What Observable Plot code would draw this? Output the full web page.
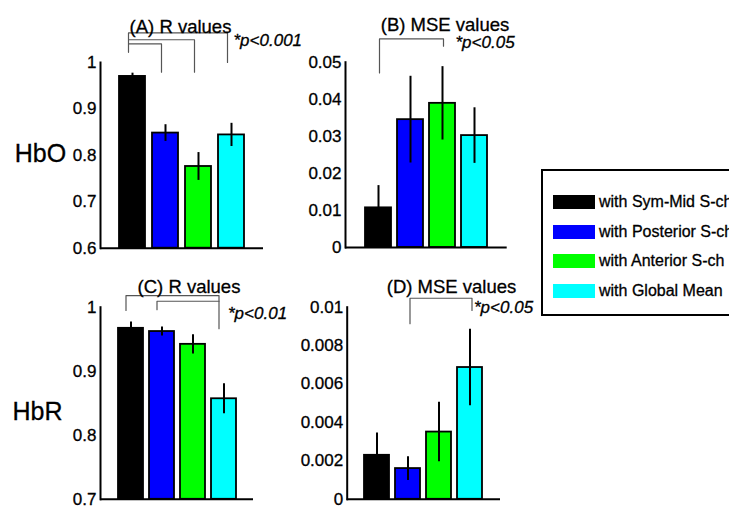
<!DOCTYPE html>
<html><head><meta charset="utf-8">
<script src="https://cdn.jsdelivr.net/npm/d3@7"></script>
<script src="https://cdn.jsdelivr.net/npm/@observablehq/plot@0.6"></script>
<style>
body{margin:0;overflow:hidden;background:#fff;font-family:"Liberation Sans",Arial,sans-serif;}
#root{position:relative;width:729px;height:508px;overflow:hidden;}
.panel{position:absolute;}
.panel svg{overflow:visible;}
.panel svg text{stroke:#000;stroke-width:0.3px;}
.legend{position:absolute;left:541px;top:169px;width:230px;height:147px;border:2px solid #000;box-sizing:border-box;padding-top:16px;}
.legend .row{height:29.7px;display:flex;align-items:center;font-size:16px;color:#000;white-space:nowrap;-webkit-text-stroke:0.3px #000;}
.legend .sw{width:42px;height:14px;margin-left:10px;margin-right:4px;-webkit-text-stroke:0;}
</style></head><body><div id="root"></div>
<script>
// ---- data ----
const categories = ["with Sym-Mid S-ch", "with Posterior S-ch", "with Anterior S-ch", "with Global Mean"];
const colors = ["#000000", "#0000ff", "#00ff00", "#00ffff"];

const rHbO = [0.970, 0.848, 0.776, 0.844];
const rHbOErr = [0.007, 0.018, 0.030, 0.025];
const mseHbO = [0.0107, 0.0345, 0.0389, 0.0302];
const mseHbOErr = [0.0060, 0.0117, 0.0099, 0.0075];
const rHbR = [0.967, 0.962, 0.942, 0.857];
const rHbRErr = [0.010, 0.007, 0.015, 0.0235];
const mseHbR = [0.00229, 0.00160, 0.00350, 0.00686];
const mseHbRErr = [0.00116, 0.00062, 0.00155, 0.00199];

const ticksR1 = [0.6, 0.7, 0.8, 0.9, 1];
const ticksM1 = [0, 0.01, 0.02, 0.03, 0.04, 0.05];
const ticksR2 = [0.7, 0.8, 0.9, 1];
const ticksM2 = [0, 0.002, 0.004, 0.006, 0.008, 0.01];

const titles = ["(A) R values", "(B) MSE values", "(C) R values", "(D) MSE values"];
const rowLabels = ["HbO", "HbR"];
const sigLabels = ["*p<0.001", "*p<0.05", "*p<0.01", "*p<0.05"];

// significance brackets: [category index, value] vertices
const bracketsA = [
  [[0, 1.022], [0, 1.064], [3, 1.064], [3, 1.000]],
  [[0, 1.049], [2, 1.049], [2, 0.979]],
  [[0, 1.040], [1, 1.040], [1, 0.979]]
];
const bracketsB = [[[0, 0.0471], [0, 0.0563], [2, 0.0563], [2, 0.0543]]];
const bracketsC = [
  [[0, 0.9949], [0, 1.0182], [3, 1.0182], [3, 0.9665]],
  [[1, 0.9960], [1, 1.0093], [3, 1.0093]]
];
const bracketsD = [[[1, 0.00914], [1, 0.010466], [3, 0.010466], [3, 0.00983]]];
const sigPos = [[3, 1.047], [2, 0.0552], [3, 0.990], [3, 0.0100]];

// ---- drawing ----
const root = document.getElementById("root");
const FONT = '"Liberation Sans", Arial, sans-serif';

function panel(o) {
  const rows = categories.map((c, i) => ({cat: c, mean: o.means[i], err: o.errs[i]}));
  const marks = [
    Plot.barY(rows, {x: "cat", y1: o.domain[0], y2: "mean", fill: "cat", stroke: "#000", strokeWidth: 1.8}),
    Plot.ruleX(rows, {x: "cat", y1: d => d.mean - d.err, y2: d => d.mean + d.err, stroke: "#000", strokeWidth: 2}),
    Plot.ruleY([o.domain[0]], {stroke: "#000", strokeWidth: 2}),
    Plot.frame({anchor: "left", stroke: "#000", strokeWidth: 2}),
    ...o.brackets.map(b => Plot.line(b, {x: d => categories[d[0]], y: d => d[1], stroke: "#555", strokeWidth: 1.2, dx: o.bdx})),
    Plot.text([o.sig], {x: d => categories[d[0]], y: d => d[1], text: () => o.sigLabel, textAnchor: "start", dx: o.sdx, fontStyle: "italic", fontSize: 17}),
    Plot.text([o.title], {frameAnchor: "top", text: d => d, dx: o.tdx, dy: o.tdy, fontSize: 18.5})
  ];
  if (o.row) marks.push(Plot.text([o.row], {frameAnchor: "left", text: d => d, dx: o.rdx, dy: o.rdy, fontSize: 25, textAnchor: "middle"}));
  const chart = Plot.plot({
    width: o.w, height: o.h,
    marginLeft: o.mL, marginRight: o.mR, marginTop: o.mT, marginBottom: o.mB,
    style: {fontFamily: FONT, fontSize: "17px", color: "#000", background: "transparent", overflow: "visible"},
    x: {domain: categories, paddingInner: 0.2, paddingOuter: 0.56, axis: null},
    y: {domain: o.domain, ticks: o.ticks, tickFormat: d3.format("~g"), tickSize: 0, tickPadding: 4, label: null},
    color: {domain: categories, range: colors},
    marks
  });
  const div = document.createElement("div");
  div.className = "panel";
  div.style.left = o.left + "px";
  div.style.top = o.top + "px";
  div.appendChild(chart);
  root.appendChild(div);
}

panel({left: 0, top: 0, w: 290, h: 255, mL: 100, mR: 27, mT: 62, mB: 7.3,
  domain: [0.6, 1], ticks: ticksR1, means: rHbO, errs: rHbOErr, brackets: bracketsA, bdx: -4,
  sig: sigPos[0], sigLabel: sigLabels[0], sdx: 2, title: titles[0], tdx: -1.5, tdy: -43,
  row: rowLabels[0], rdx: -60, rdy: -1});
panel({left: 290, top: 0, w: 250, h: 255, mL: 55, mR: 33.3, mT: 61.7, mB: 8,
  domain: [0, 0.05], ticks: ticksM1, means: mseHbO, errs: mseHbOErr, brackets: bracketsB, bdx: 1,
  sig: sigPos[1], sigLabel: sigLabels[1], sdx: 13, title: titles[1], tdx: 18.7, tdy: -44});
panel({left: 0, top: 255, w: 290, h: 253, mL: 100, mR: 37, mT: 51.7, mB: 9.2,
  domain: [0.7, 1], ticks: ticksR2, means: rHbR, errs: rHbRErr, brackets: bracketsC, bdx: -5,
  sig: sigPos[2], sigLabel: sigLabels[2], sdx: 4, title: titles[2], tdx: 12, tdy: -27.5,
  row: rowLabels[1], rdx: -63, rdy: 8.3});
panel({left: 290, top: 255, w: 250, h: 253, mL: 56.7, mR: 40, mT: 51.7, mB: 9.2,
  domain: [0, 0.01], ticks: ticksM2, means: mseHbR, errs: mseHbRErr, brackets: bracketsD, bdx: 2,
  sig: sigPos[3], sigLabel: sigLabels[3], sdx: 4, title: titles[3], tdx: 27.7, tdy: -27.5});

// legend
const leg = document.createElement("div");
leg.className = "legend";
categories.forEach((c, i) => {
  const r = document.createElement("div");
  r.className = "row";
  const sw = document.createElement("span");
  sw.className = "sw";
  sw.style.background = colors[i];
  const t = document.createElement("span");
  t.textContent = c;
  r.appendChild(sw); r.appendChild(t);
  leg.appendChild(r);
});
root.appendChild(leg);
</script>
</body></html>
